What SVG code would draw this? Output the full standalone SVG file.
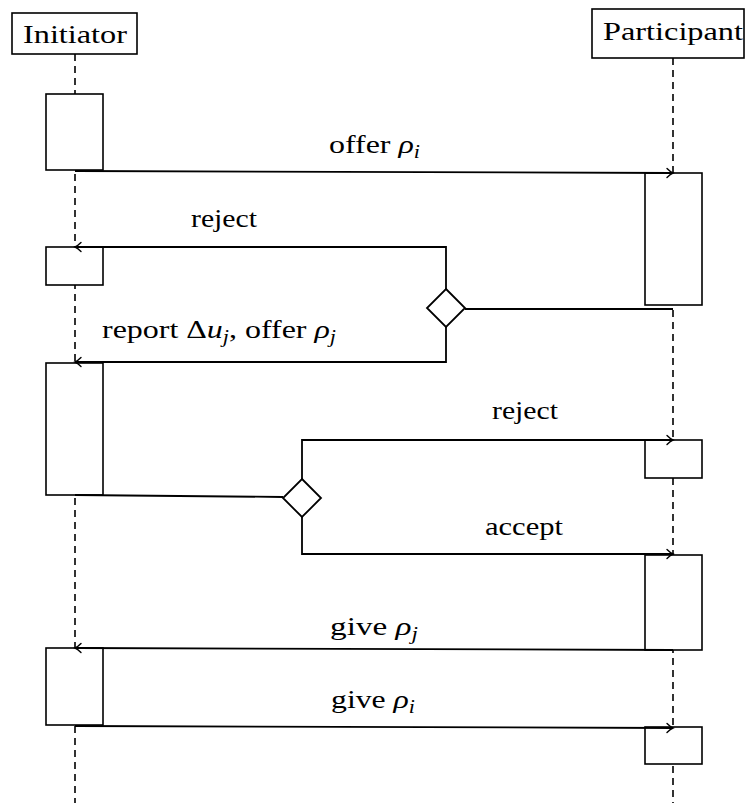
<svg xmlns="http://www.w3.org/2000/svg" width="750" height="803" viewBox="0 0 750 803">
<defs>
<marker id="arr" markerUnits="userSpaceOnUse" markerWidth="16" markerHeight="16" viewBox="-10 -8 12 16" refX="0" refY="0" orient="auto">
<path d="M -6 -4.5 Q -2.5 -1 0 0 Q -2.5 1 -6 4.5" fill="none" stroke="#000" stroke-width="1.4" stroke-linecap="round"/>
</marker>
</defs>
<style>
.box{fill:#fff;stroke:#000;stroke-width:1.6}
.life{fill:none;stroke:#000;stroke-width:1.6;stroke-dasharray:7 5}
.msg{fill:none;stroke:#000;stroke-width:1.8}
.dia{fill:#fff;stroke:#000;stroke-width:1.8}
text{font-family:"Liberation Serif","Times New Roman",serif;font-size:26px;fill:#000}
.it{font-style:italic}
</style>
<rect width="750" height="803" fill="#fff"/>
<g id="lifelines">
<line class="life" x1="75" y1="54" x2="75" y2="803"/>
<line class="life" x1="673" y1="58" x2="673" y2="803"/>
</g>
<g id="initiator">
<rect class="box" x="12" y="13" width="125" height="41"/>
<text x="75" y="43" text-anchor="middle" textLength="104" lengthAdjust="spacingAndGlyphs">Initiator</text>
</g>
<g id="participant">
<rect class="box" x="592" y="9" width="152" height="49"/>
<text x="673" y="40" text-anchor="middle" textLength="140" lengthAdjust="spacingAndGlyphs">Participant</text>
</g>
<g id="act-i1"><rect class="box" x="46" y="94" width="57" height="76"/></g>
<g id="act-i2"><rect class="box" x="46" y="247" width="57" height="38"/></g>
<g id="act-i3"><rect class="box" x="46" y="363" width="57" height="132"/></g>
<g id="act-i4"><rect class="box" x="46" y="648" width="57" height="77"/></g>
<g id="act-p1"><rect class="box" x="645" y="173" width="57" height="132"/></g>
<g id="act-p2"><rect class="box" x="645" y="440" width="57" height="38"/></g>
<g id="act-p3"><rect class="box" x="645" y="555" width="57" height="95"/></g>
<g id="act-p4"><rect class="box" x="645" y="727" width="57" height="37"/></g>
<g id="connectors">
<polyline class="msg" points="75,171 673,173" marker-end="url(#arr)"/>
<polyline class="msg" points="673,309 465,309"/>
<polyline class="msg" points="446,289 446,247 75,247" marker-end="url(#arr)"/>
<polyline class="msg" points="446,327 446,362 75,362" marker-end="url(#arr)"/>
<polyline class="msg" points="75,495 283,497"/>
<polyline class="msg" points="302,479 302,440 673,440" marker-end="url(#arr)"/>
<polyline class="msg" points="302,517 302,554 673,554" marker-end="url(#arr)"/>
<polyline class="msg" points="673,650 75,648" marker-end="url(#arr)"/>
<polyline class="msg" points="75,726 673,728" marker-end="url(#arr)"/>
</g>
<g id="decision1"><polygon class="dia" points="446,289 465,308 446,327 427,308"/></g>
<g id="decision2"><polygon class="dia" points="302,479 321,498 302,517 283,498"/></g>
<g id="labels">
<text x="374.5" y="153" text-anchor="middle" textLength="91" lengthAdjust="spacingAndGlyphs">offer <tspan class="it">ρ</tspan><tspan class="it" font-size="18" dy="5">i</tspan></text>
<text x="224" y="227" text-anchor="middle" textLength="66" lengthAdjust="spacingAndGlyphs">reject</text>
<text x="219" y="338" text-anchor="middle" textLength="234" lengthAdjust="spacingAndGlyphs">report Δ<tspan class="it">u</tspan><tspan class="it" font-size="18" dy="5">j</tspan><tspan dy="-5">, offer </tspan><tspan class="it">ρ</tspan><tspan class="it" font-size="18" dy="5">j</tspan></text>
<text x="525" y="419" text-anchor="middle" textLength="66" lengthAdjust="spacingAndGlyphs">reject</text>
<text x="524" y="535" text-anchor="middle" textLength="78" lengthAdjust="spacingAndGlyphs">accept</text>
<text x="374" y="635" text-anchor="middle" textLength="88" lengthAdjust="spacingAndGlyphs">give <tspan class="it">ρ</tspan><tspan class="it" font-size="18" dy="5">j</tspan></text>
<text x="373" y="708" text-anchor="middle" textLength="84" lengthAdjust="spacingAndGlyphs">give <tspan class="it">ρ</tspan><tspan class="it" font-size="18" dy="5">i</tspan></text>
</g>
</svg>
